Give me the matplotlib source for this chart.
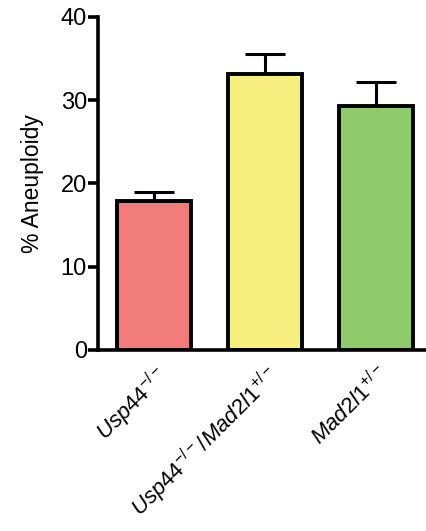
import matplotlib
matplotlib.use("Agg")
import matplotlib.pyplot as plt
from matplotlib.transforms import ScaledTranslation

# values
groups = [r"$\mathit{Usp44}^{\mathit{-/-}}$",
          r"$\mathit{Usp44}^{\mathit{-/-}}\mathit{/Mad2l1}^{\mathit{+/-}}$",
          r"$\mathit{Mad2l1}^{\mathit{+/-}}$"]
means = [17.9, 33.2, 29.3]
sem = [1.1, 2.4, 2.9]
colors = ["#F27C7A", "#F6EF7D", "#8FCB6B"]

plt.rcParams["font.family"] = ["Liberation Sans", "DejaVu Sans"]
plt.rcParams["mathtext.fontset"] = "custom"
plt.rcParams["mathtext.rm"] = "Liberation Sans"
plt.rcParams["mathtext.it"] = "Liberation Sans:italic"

fig = plt.figure(figsize=(4.26, 5.31), dpi=100)
ax = fig.add_axes([0.230, 0.341, 0.77, 0.627])

x = list(range(len(means)))
ax.errorbar(x, means, yerr=[[0] * len(sem), sem], fmt="none", ecolor="black",
            elinewidth=2.2, capsize=14.4, capthick=2.2, zorder=1)
ax.bar(x, means, width=0.667, color=colors, edgecolor="black", linewidth=2.8, zorder=2)

ax.set_ylim(0, 40)
ax.set_xlim(-0.505, 2.45)
ax.set_yticks([0, 10, 20, 30, 40])
ax.set_xticks(x)
ax.set_xticklabels(groups, rotation=45, ha="right", rotation_mode="anchor", fontsize=16)
# nudge rotated labels slightly left, like the original
for lbl in ax.get_xticklabels():
    lbl.set_transform(lbl.get_transform() + ScaledTranslation(-6 / 72, 0, fig.dpi_scale_trans))
ax.set_ylabel("% Aneuploidy", fontsize=16.5, labelpad=12)

for side in ["top", "right"]:
    ax.spines[side].set_visible(False)
for side in ["left", "bottom"]:
    ax.spines[side].set_linewidth(2.6)
ax.tick_params(axis="y", length=7, width=2.6, labelsize=17, pad=1)
ax.tick_params(axis="x", length=0, pad=8)

fig.savefig("out.png", dpi=100)
